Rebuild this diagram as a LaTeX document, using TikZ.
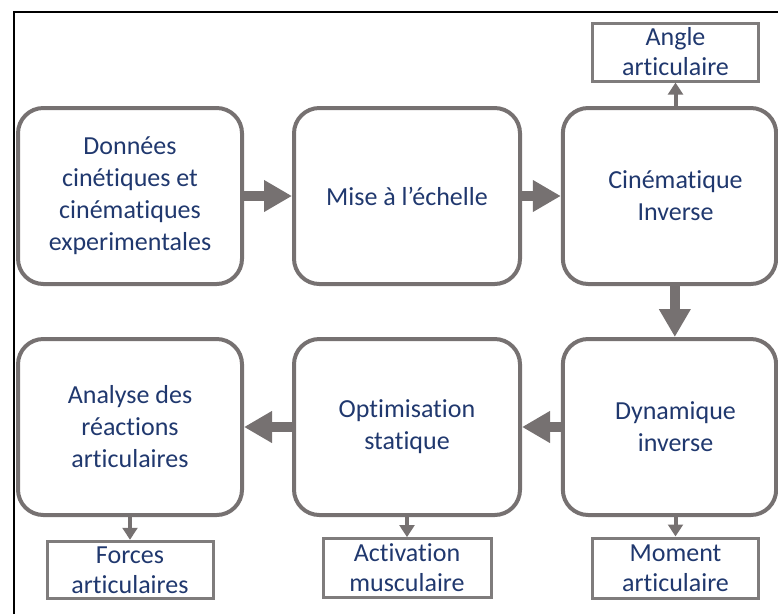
\documentclass[tikz,border=0pt]{standalone}
\usepackage{fontspec}
\setmainfont{Carlito}[Ligatures=NoCommon]
\usetikzlibrary{arrows.meta}
\definecolor{txtblue}{RGB}{32,56,110}
\definecolor{linegray}{RGB}{118,113,113}
\definecolor{boxgray}{RGB}{127,124,124}
\tikzset{
	bigbox/.style={draw=linegray,line width=3pt,rounded corners=19pt,minimum height=132pt,align=center,text=txtblue,font=\fontsize{19.5}{24}\selectfont},
	outbox/.style={draw=boxgray,line width=2.25pt,align=center,text=txtblue,inner sep=0pt,font=\fontsize{19.5}{22.5}\selectfont},
	bigarrow/.style={draw=linegray,line width=7.5pt,-{Triangle[width=22.5pt,length=21pt]}},
	smallarrow/.style={draw=linegray,line width=3pt,-{Triangle[width=11pt,length=9pt]}}
}
\begin{document}
\begin{tikzpicture}[x=0.75pt,y=-0.75pt]
	\useasboundingbox(0,0)rectangle(778,614);
	\draw[line width=1.5pt](14,614)--(14,12)--(778,12);
	% first row
	\node[bigbox,minimum width=168pt](donnees) at(130,196){Donn\'ees\\cin\'etiques et\\cin\'ematiques\\experimentales};
	\node[bigbox,minimum width=169.5pt](echelle) at(407,196){Mise \`a l’\'echelle};
	\node[bigbox,minimum width=160pt](cinematique) at(669.5,196){\hspace*{9pt}Cin\'ematique\\\hspace*{9pt}Inverse};
	% second row
	\node[bigbox,minimum width=168pt](analyse) at(130,427){Analyse des\\r\'eactions\\articulaires};
	\node[bigbox,minimum width=169.5pt](optimisation) at(407,427){Optimisation\\statique};
	\node[bigbox,minimum width=160pt](dynamique) at(669.5,427){\hspace*{9pt}Dynamique\\\hspace*{9pt}inverse};
	% results
	\node[outbox,minimum width=125pt,minimum height=43.5pt](angle) at(675.5,52){Angle\\articulaire};
	\node[outbox,minimum width=124.5pt,minimum height=43pt](forces) at(130,570){Forces\\articulaires};
	\node[outbox,minimum width=126pt,minimum height=44pt](activation) at(407,568){Activation\\musculaire};
	\node[outbox,minimum width=125pt,minimum height=45pt](moment) at(675.5,568){Moment\\articulaire};
	% flow
	\draw[bigarrow](donnees)--(echelle);
	\draw[bigarrow](echelle)--(cinematique);
	\draw[bigarrow]([xshift=4pt]cinematique.south)--([xshift=4pt]dynamique.north);
	\draw[bigarrow](dynamique)--(optimisation);
	\draw[bigarrow](optimisation)--(analyse);
	\draw[smallarrow](angle.south|-cinematique.north)--(angle.south);
	\draw[smallarrow](analyse.south)--(forces.north);
	\draw[smallarrow](optimisation.south)--(activation.north);
	\draw[smallarrow](moment.north|-dynamique.south)--(moment.north);
\end{tikzpicture}
\end{document}
